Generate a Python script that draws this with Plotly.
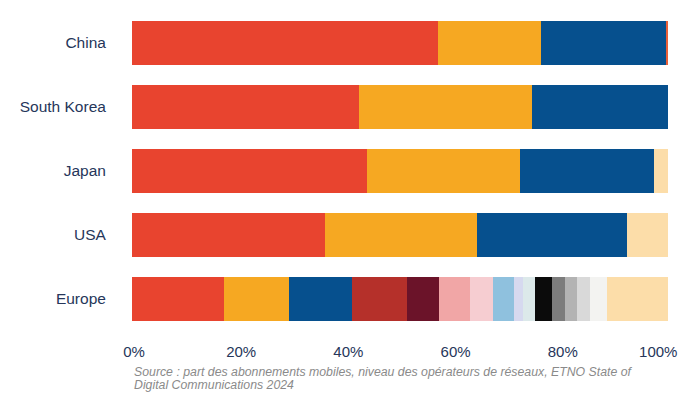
import plotly.graph_objects as go

categories = ["China", "South Korea", "Japan", "USA", "Europe"]

# segment shares (%) per category, in stacking order
segment_names = [
    "Opérateur 1", "Opérateur 2", "Opérateur 3",
    "Opérateur 4", "Opérateur 5", "Opérateur 6", "Opérateur 7", "Opérateur 8",
    "Opérateur 9", "Opérateur 10", "Opérateur 11", "Opérateur 12", "Opérateur 13",
    "Opérateur 14", "Opérateur 15", "Autres", "Autres (Chine)",
]
segment_values = [
    [57.1, 42.4, 43.8, 36.0, 17.2],   # red
    [19.2, 32.2, 28.6, 28.4, 12.1],   # yellow
    [23.4, 25.4, 25.0, 28.0, 11.7],   # blue
    [0, 0, 0, 0, 10.3],               # brick
    [0, 0, 0, 0, 6.0],                # maroon
    [0, 0, 0, 0, 5.7],                # pink
    [0, 0, 0, 0, 4.4],                # light pink
    [0, 0, 0, 0, 3.9],                # light blue
    [0, 0, 0, 0, 1.6],                # lavender
    [0, 0, 0, 0, 2.3],                # pale cyan
    [0, 0, 0, 0, 3.2],                # black
    [0, 0, 0, 0, 2.4],                # dark grey
    [0, 0, 0, 0, 2.2],                # grey
    [0, 0, 0, 0, 2.4],                # light grey
    [0, 0, 0, 0, 3.2],                # near white
    [0, 0, 2.6, 7.6, 11.4],           # peach (others)
    [0.3, 0, 0, 0, 0],                # China tiny sliver
]
segment_colors = [
    "#E8442F", "#F6A822", "#06508E",
    "#B5302A", "#6B1329", "#F1A6A6", "#F6CDD1", "#8FC1DE",
    "#D6D9EF", "#DCE9EA", "#0B0B0B", "#7C7C7C", "#B3B3B3",
    "#D9D9D9", "#F3F3F1", "#FCDDA9", "#E8603A",
]

x_ticks = [0, 20, 40, 60, 80]
x_tick_labels = ["0%", "20%", "40%", "60%", "80%"]
x_end_tick = [100]
x_end_label = ["100%"]

source_lines = [
    "Source : part des abonnements mobiles, niveau des opérateurs de réseaux, ETNO State of",
    "Digital Communications 2024",
]

fig = go.Figure()
for name, vals, col in zip(segment_names, segment_values, segment_colors):
    fig.add_trace(go.Bar(
        y=categories, x=vals, name=name, orientation="h",
        marker=dict(color=col, line=dict(width=0)),
        showlegend=False,
    ))

label_color = "#26365A"
tick_font = dict(size=15, color=label_color)
common_x = dict(
    range=[0, 100.01], showgrid=False, zeroline=False, showline=False,
    automargin=False, ticks="outside", tickcolor="rgba(0,0,0,0)",
    tickfont=tick_font,
)
fig.update_layout(
    barmode="stack",
    bargap=0.31,
    width=680, height=395,
    margin=dict(l=132, r=12, t=11, b=64),
    paper_bgcolor="white", plot_bgcolor="white",
    font=dict(family="Liberation Sans, Arial, sans-serif", color=label_color, size=15),
    xaxis=dict(tickvals=x_ticks, ticktext=x_tick_labels, ticklabelshift=2,
               ticklen=7, **common_x),
    xaxis2=dict(tickvals=x_end_tick, ticktext=x_end_label, overlaying="x",
                anchor="y", side="bottom", matches="x", ticklen=7,
                ticklabelstandoff=7,
                ticklabelposition="outside left", ticklabelshift=10, **common_x),
    yaxis=dict(
        autorange="reversed", showgrid=False, zeroline=False, showline=False,
        automargin=False,
        ticks="outside", ticklen=22, tickcolor="rgba(0,0,0,0)",
        tickfont=dict(size=15.5, color=label_color),
    ),
    annotations=[
        dict(text=line, xref="paper", yref="paper", x=0, y=yy,
             xanchor="left", yanchor="middle", showarrow=False, align="left",
             font=dict(size=12.3, color="#8A8A8A", style="italic",
                       family="Liberation Sans, Arial, sans-serif"))
        for line, yy in zip(source_lines, [-0.128, -0.169])
    ],
)
# invisible helper trace so the end-label axis is drawn
fig.add_trace(go.Scatter(x=[0], y=[categories[0]], xaxis="x2", mode="markers",
                         marker=dict(opacity=0), hoverinfo="skip", showlegend=False))

fig.write_html("out.html", config={"displayModeBar": False},
               post_script="document.body.style.margin='0';")
